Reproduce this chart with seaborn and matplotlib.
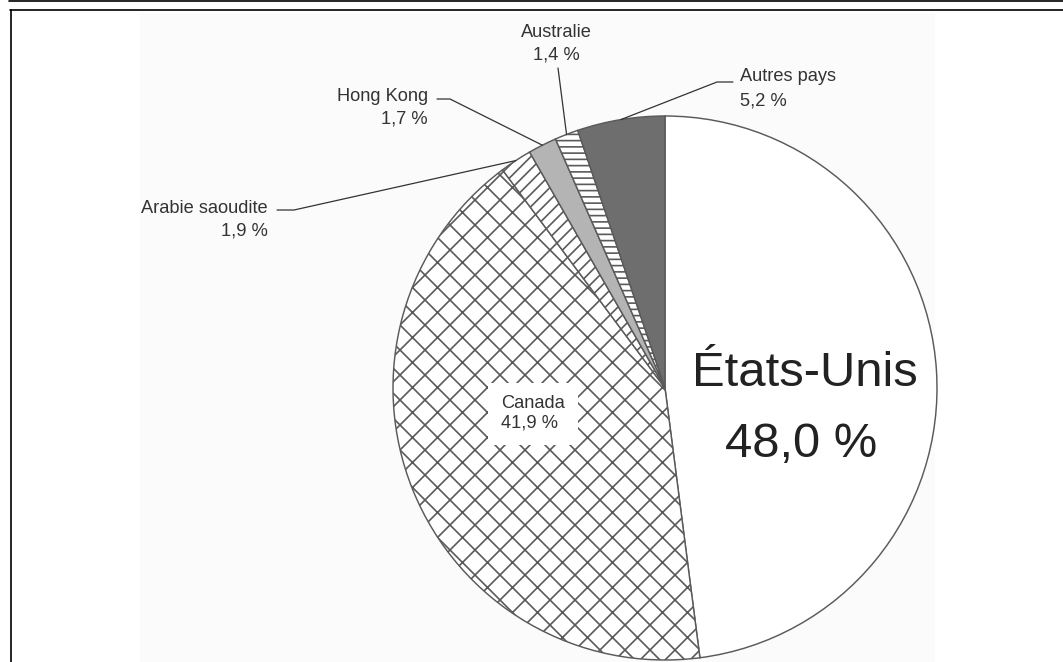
import numpy as np
import seaborn as sns
import matplotlib.pyplot as plt
from matplotlib.patches import Rectangle

# Data
countries = ["États-Unis", "Canada", "Arabie saoudite", "Hong Kong", "Australie", "Autres pays"]
shares = [48.0, 41.9, 1.9, 1.7, 1.4, 5.2]
share_labels = ["48,0 %", "41,9 %", "1,9 %", "1,7 %", "1,4 %", "5,2 %"]

fills = ["#ffffff", "#ffffff", "#ffffff", "#b4b4b4", "#ffffff", "#6e6e6e"]
hatches = [None, "x", "//", None, "--", None]

sns.set_theme(style="white")
plt.rcParams["font.family"] = ["Liberation Sans", "DejaVu Sans"]
plt.rcParams["hatch.linewidth"] = 1.6

W, H = 1063, 662
DPI = 75
fig = plt.figure(figsize=(W / DPI, H / DPI), dpi=DPI)
fig.patch.set_facecolor("white")
ax = fig.add_axes([0, 0, 1, 1])

def Y(y):
    # pixel row -> data y
    return H - y

# faint picture background
ax.add_patch(Rectangle((140, 0), 795, Y(13), facecolor="#fbfbfb", edgecolor="none", zorder=0))

cx, cy, r = 665, 388, 272
wedges, _ = ax.pie(
    shares,
    colors=fills,
    startangle=90,
    counterclock=False,
    center=(cx, Y(cy)),
    radius=r,
    frame=True,
    wedgeprops=dict(edgecolor="#5a5a5a", linewidth=1.4),
)
for w, h in zip(wedges, hatches):
    if h:
        w.set_hatch(h)
    w.set_zorder(2)

ax.set_xlim(0, W)
ax.set_ylim(0, H)
ax.set_aspect("equal")
ax.axis("off")


def rim_point(w):
    ang = np.deg2rad((w.theta1 + w.theta2) / 2)
    return cx + r * np.cos(ang), Y(cy) + r * np.sin(ang)


fs = 17.5
lc = "#333333"
tc = "#333333"

# États-Unis, large label inside the slice
ax.text(805, Y(386), countries[0], fontsize=47, ha="center", va="baseline", color="#222222", zorder=5)
ax.text(801, Y(457), share_labels[0], fontsize=47, ha="center", va="baseline", color="#222222", zorder=5)

# Canada label with white knock-out
ax.text(501, Y(428), countries[1] + "\n" + share_labels[1], fontsize=fs, ha="left", va="baseline",
        linespacing=1.2, color=tc, zorder=5,
        bbox=dict(boxstyle="square,pad=0.7", facecolor="white", edgecolor="none"))

# Arabie saoudite
ax.text(268, Y(213), countries[2], fontsize=fs, ha="right", va="baseline", color=tc)
ax.text(268, Y(236), share_labels[2], fontsize=fs, ha="right", va="baseline", color=tc)
px, py = rim_point(wedges[2])
ax.plot([277, 294, px], [Y(210), Y(210), py], color=lc, lw=1.2, zorder=4)

# Hong Kong
ax.text(428, Y(101), countries[3], fontsize=fs, ha="right", va="baseline", color=tc)
ax.text(428, Y(124), share_labels[3], fontsize=fs, ha="right", va="baseline", color=tc)
px, py = rim_point(wedges[3])
ax.plot([437, 450, px], [Y(99), Y(99), py], color=lc, lw=1.2, zorder=4)

# Australie
ax.text(556, Y(37), countries[4], fontsize=fs, ha="center", va="baseline", color=tc)
ax.text(556, Y(60), share_labels[4], fontsize=fs, ha="center", va="baseline", color=tc)
px, py = rim_point(wedges[4])
ax.plot([558, px], [Y(68), py], color=lc, lw=1.2, zorder=4)

# Autres pays
ax.text(740, Y(81), countries[5], fontsize=fs, ha="left", va="baseline", color=tc)
ax.text(740, Y(105), share_labels[5], fontsize=fs, ha="left", va="baseline", color=tc)
px, py = rim_point(wedges[5])
ax.plot([733, 717, px], [Y(82), Y(82), py], color=lc, lw=1.2, zorder=4)

# page frame
ax.plot([9, W], [Y(0.8), Y(0.8)], color="black", lw=1.6, clip_on=False)
ax.plot([10, W], [Y(9.5), Y(9.5)], color="black", lw=1.6, clip_on=False)
ax.plot([10.5, 10.5], [Y(9.5), 0], color="black", lw=1.6, clip_on=False)

fig.savefig("out.png", dpi=DPI)
